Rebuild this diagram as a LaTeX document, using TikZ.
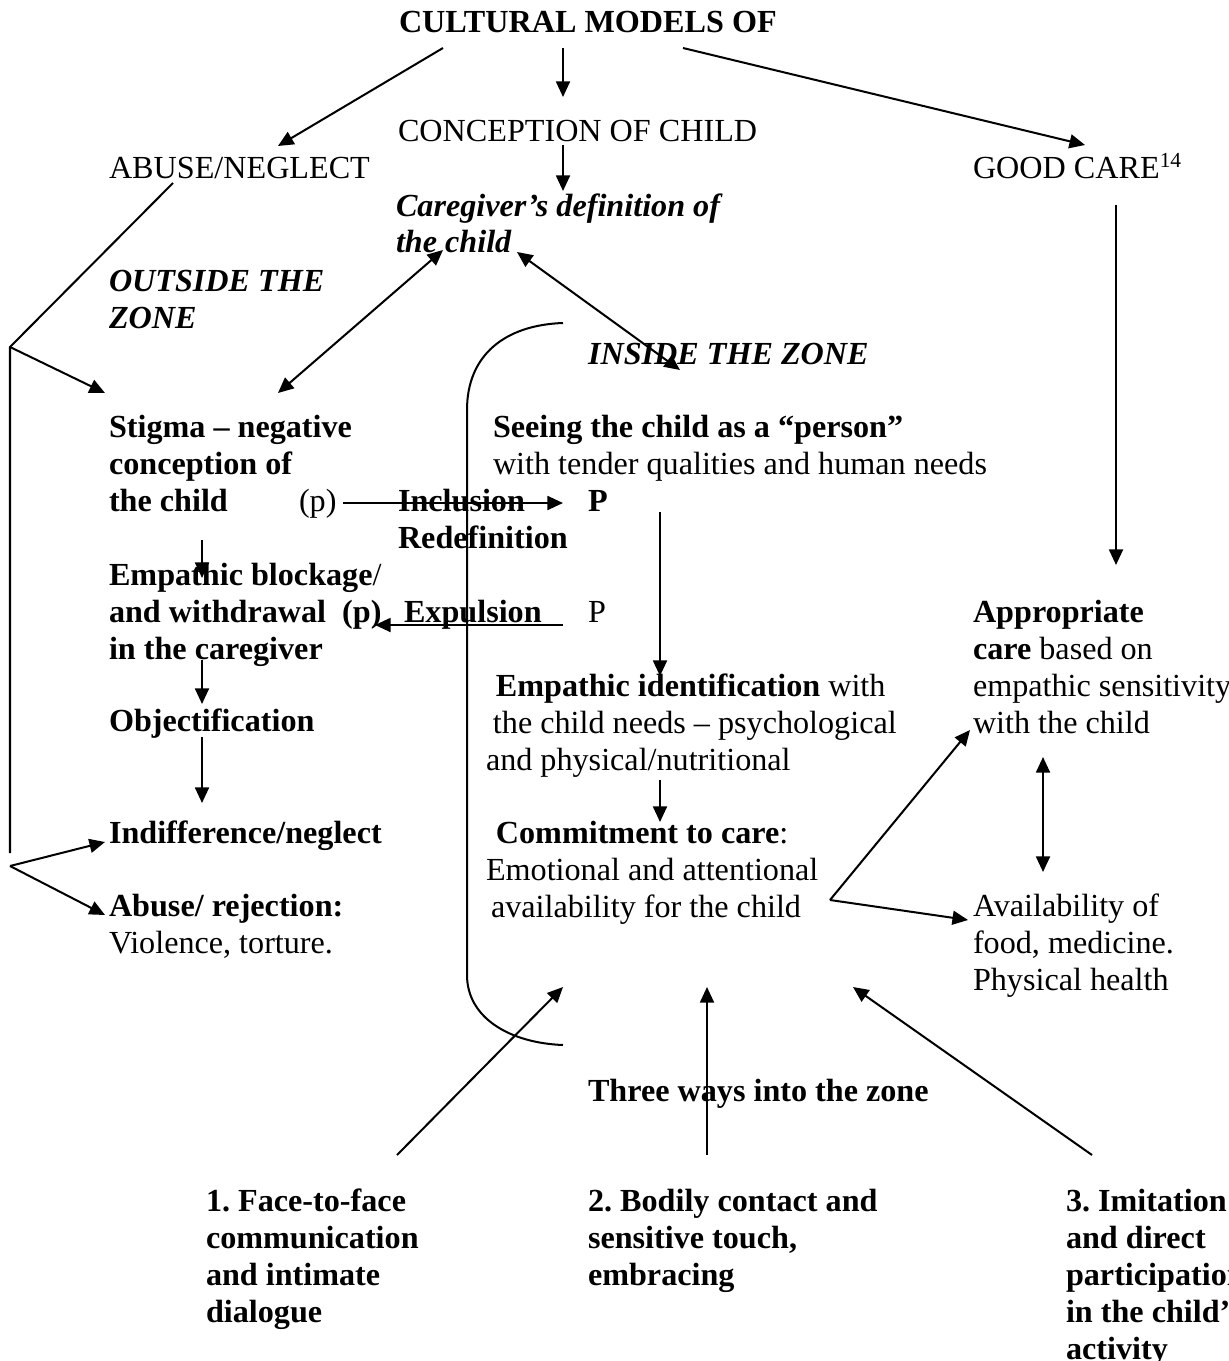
\documentclass[tikz,border=0pt]{standalone}
\usepackage{fontspec}
\setmainfont{Liberation Serif}
\usetikzlibrary{arrows.meta}
\frenchspacing
\tikzstyle{txt}=[anchor=base west, inner sep=0pt, align=left, font=\fontsize{12}{13.8}\selectfont]
\tikzstyle{btxt}=[txt, font=\fontsize{12}{13.8}\selectfont\bfseries]
\tikzstyle{itxt}=[txt, font=\fontsize{12}{13.8}\selectfont\bfseries\itshape]
\begin{document}
\begin{tikzpicture}[x=0.3731pt,y=-0.3731pt,>={Triangle[length=5.8pt,width=5.2pt]},line width=0.75pt]
\useasboundingbox (0,0) rectangle (1228,1361);

% top of the scheme (multi-line nodes sit on their last line)
\node[btxt] at (398,33) (models) {CULTURAL MODELS OF};
\node[txt] at (397,142) (concept) {CONCEPTION OF CHILD};
\node[txt] at (108,179) (abuse) {ABUSE/NEGLECT};
\node[txt] at (972,179) (good) {GOOD CARE\textsuperscript{\fontsize{8}{8}\selectfont 14}};
\node[itxt] at (395,253) (definition) {Caregiver’s definition of\\the child};
\node[itxt] at (108,328) (outside) {OUTSIDE THE\\ZONE};
\node[itxt] at (587,364) (inside) {INSIDE THE ZONE};

% outside the zone
\node[btxt] at (108,511) (stigma) {Stigma -- negative\\conception of\\the child};
\node[txt] at (298,511) (pl) {(p)};
\node[btxt] at (397,548) (inclusion) {Inclusion\\Redefinition};
\node[btxt] at (587,511) (pin) {P};
\node[txt] at (108,659) (blockage) {\textbf{Empathic blockage}/\\\textbf{and withdrawal\ \ (p)}\\\textbf{in the caregiver}};
\node[btxt] at (403,622) (expulsion) {Expulsion};
\node[txt] at (587,622) (pout) {P};
\node[btxt] at (108,731) (objectification) {Objectification};
\node[btxt] at (108,843) (indifference) {Indifference/neglect};
\node[txt] at (108,953) (rejection) {\textbf{Abuse/ rejection:}\\Violence, torture.};

% inside the zone
\node[txt] at (492,474) (seeing) {\textbf{Seeing the child as a “person”}\\with tender qualities and human needs};
\node[txt] at (485,770) (identification) {\hspace*{3.7pt}\textbf{Empathic identification} with\\\hspace*{2.6pt}the child needs -- psychological\\and physical/nutritional};
\node[txt] at (485,917) (commitment) {\hspace*{3.7pt}\textbf{Commitment to care}:\\Emotional and attentional\\\hspace*{1.9pt}availability for the child};
\node[txt] at (972,733) (appropriate) {\textbf{Appropriate}\\\textbf{care} based on\\empathic sensitivity\\with the child};
\node[txt] at (972,990) (availability) {Availability of\\food, medicine.\\Physical health};

% three ways
\node[btxt] at (587,1101) (three) {Three ways into the zone};
\node[btxt] at (205,1322) (way1) {1. Face-to-face\\communication\\and intimate\\dialogue};
\node[btxt] at (587,1285) (way2) {2. Bodily contact and\\sensitive touch,\\embracing};
\node[btxt] at (1065,1359) (way3) {3. Imitation\\and direct\\participation\\in the child’s\\activity};

% end points of the connectors
\coordinate (topl) at (443,48);
\coordinate (topc) at (563,48);
\coordinate (topr) at (683,48);
\coordinate (abusein) at (278,146);
\coordinate (conceptin) at (563,97);
\coordinate (goodin) at (1085,145);
\coordinate (conceptout) at (563,145);
\coordinate (defin) at (563,191);
\coordinate (defl) at (443,250);
\coordinate (defr) at (517,252);
\coordinate (stigmain) at (278,393);
\coordinate (seeingin) at (680,370);
\coordinate (abuseout) at (173,183);
\coordinate (forktop) at (10,347);
\coordinate (leftbot) at (10,853);
\coordinate (stigmaleft) at (105,393);
\coordinate (forkbot) at (10,866);
\coordinate (indiffin) at (105,842);
\coordinate (rejectin) at (105,915);
\coordinate (plout) at (343,503);
\coordinate (pinin) at (563,503);
\coordinate (poutout) at (563,625);
\coordinate (blockin) at (375,625);
\coordinate (stigdown) at (202,540);
\coordinate (blocktop) at (202,578);
\coordinate (blockdown) at (202,660);
\coordinate (objtop) at (202,704);
\coordinate (objdown) at (202,737);
\coordinate (indifftop) at (202,803);
\coordinate (seeingdown) at (660,512);
\coordinate (identtop) at (660,676);
\coordinate (identdown) at (660,780);
\coordinate (committop) at (660,822);
\coordinate (commitout) at (830,900);
\coordinate (appin) at (970,730);
\coordinate (availin) at (968,920);
\coordinate (gooddown) at (1116,205);
\coordinate (apptop) at (1116,565);
\coordinate (appbot) at (1043,757);
\coordinate (availtop) at (1043,872);
\coordinate (ztop) at (563,323);
\coordinate (zbot) at (563,1045);
\coordinate (way1up) at (397,1155);
\coordinate (way1in) at (563,987);
\coordinate (way2up) at (707,1155);
\coordinate (way2in) at (707,987);
\coordinate (way3up) at (1092,1155);
\coordinate (way3in) at (853,987);

\draw[->] (topl) -- (abusein);
\draw[->] (topc) -- (conceptin);
\draw[->] (topr) -- (goodin);
\draw[->] (conceptout) -- (defin);
\draw[<->] (defl) -- (stigmain);
\draw[<->] (defr) -- (seeingin);

\draw (abuseout) -- (forktop) -- (leftbot);
\draw[->] (forktop) -- (stigmaleft);
\draw[->] (forkbot) -- (indiffin);
\draw[->] (forkbot) -- (rejectin);

\draw[->] (plout) -- (pinin);
\draw[->] (poutout) -- (blockin);
\draw[->] (stigdown) -- (blocktop);
\draw[->] (blockdown) -- (objtop);
\draw[->] (objdown) -- (indifftop);

\draw[->] (seeingdown) -- (identtop);
\draw[->] (identdown) -- (committop);
\draw[->] (commitout) -- (appin);
\draw[->] (commitout) -- (availin);
\draw[->] (gooddown) -- (apptop);
\draw[<->] (appbot) -- (availtop);

% the zone
\draw (ztop) .. controls (505,325) and (467,355) .. (467,410) -- (467,975)
  .. controls (467,1018) and (510,1043) .. (zbot);

\draw[->] (way1up) -- (way1in);
\draw[->] (way2up) -- (way2in);
\draw[->] (way3up) -- (way3in);
\end{tikzpicture}
\end{document}
